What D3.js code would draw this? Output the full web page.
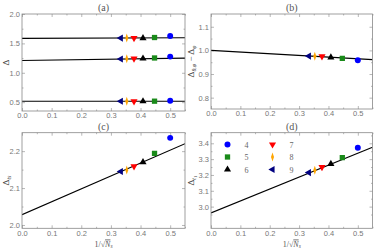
<!DOCTYPE html>
<style>
  body { margin: 0; background: #fff; }
  svg { font-family: "Liberation Serif", serif; }
  .tick text { fill: #777; font-size: 7.5px; }
  .tick line { stroke: #888; stroke-width: 0.6; }
  .frame { fill: none; stroke: #888; stroke-width: 0.8; }
</style>
<svg width="374" height="249"></svg>
<script src="https://d3js.org/d3.v7.min.js"></script>
<script>
// 1/sqrt(Ns) for Ns = 4..9
var sizes = [4, 5, 6, 7, 8, 9];
var xs = sizes.map(function(n) { return 1 / Math.sqrt(n); });

// panel (a): three branches
var aTop = [1.625, 1.600, 1.590, 1.590, 1.590, 1.590];
var aMid = [1.275, 1.252, 1.242, 1.240, 1.237, 1.235];
var aBot = [0.525, 0.517, 0.515, 0.515, 0.515, 0.515];
var aFits = [[1.585, 1.595], [1.210, 1.250], [0.515, 0.515]];
// panel (b)
var bVals = [0.958, 0.966, 0.970, 0.975, 0.975, 0.976];
var bFit = [1.000, 0.961];
// panel (c)
var cVals = [2.236, 2.194, 2.170, 2.159, 2.149, 2.145];
var cFit = [2.028, 2.220];
// panel (d)
var dVals = [3.372, 3.310, 3.270, 3.250, 3.230, 3.215];
var dFit = [2.960, 3.375];

var colors = ["#0000ff", "#1a8a1a", "#000000", "#ff0000", "#ffa500", "#000080"];
var shapes = ["circle", "square", "up", "down", "diamond", "left"];

var svg = d3.select("svg");

function marker(g, shape, color) {
  var p;
  if (shape === "circle") p = g.append("path").attr("d", d3.symbol(d3.symbolCircle, 28)());
  else if (shape === "square") p = g.append("path").attr("d", d3.symbol(d3.symbolSquare, 28)());
  else if (shape === "diamond") p = g.append("path").attr("d", d3.symbol(d3.symbolDiamond, 26)()).attr("transform", "scale(0.55,0.95)");
  else {
    p = g.append("path").attr("d", d3.symbol(d3.symbolTriangle, 22)());
    if (shape === "down") p.attr("transform", "rotate(180)");
    if (shape === "left") p.attr("transform", "rotate(-90)");
  }
  p.attr("fill", color);
}

function panel(opt) {
  var x = d3.scaleLinear().domain([0, 0.55]).range([opt.x0, opt.x1]);
  var y = d3.scaleLinear().domain(opt.ydom).range([opt.y1, opt.y0]);
  var g = svg.append("g");

  var xt = d3.range(0, 0.551, 0.1);
  var xm = d3.range(0.05, 0.551, 0.1);
  g.append("g").attr("transform", "translate(0," + opt.y1 + ")")
    .call(d3.axisBottom(x).tickValues(xt).tickSize(-3).tickPadding(2).tickFormat(d3.format(".1f")))
    .call(function(a) { a.select(".domain").remove(); });
  g.append("g").attr("transform", "translate(0," + opt.y0 + ")")
    .call(d3.axisTop(x).tickValues(xt).tickSize(-3).tickFormat(""))
    .call(function(a) { a.select(".domain").remove(); });
  g.append("g").attr("transform", "translate(0," + opt.y1 + ")")
    .call(d3.axisBottom(x).tickValues(xm).tickSize(-1.5).tickFormat(""))
    .call(function(a) { a.select(".domain").remove(); });
  g.append("g").attr("transform", "translate(0," + opt.y0 + ")")
    .call(d3.axisTop(x).tickValues(xm).tickSize(-1.5).tickFormat(""))
    .call(function(a) { a.select(".domain").remove(); });

  g.append("g").attr("transform", "translate(" + opt.x0 + ",0)")
    .call(d3.axisLeft(y).tickValues(opt.yt).tickSize(-3).tickPadding(2).tickFormat(d3.format(".1f")))
    .call(function(a) { a.select(".domain").remove(); });
  g.append("g").attr("transform", "translate(" + opt.x1 + ",0)")
    .call(d3.axisRight(y).tickValues(opt.yt).tickSize(-3).tickFormat(""))
    .call(function(a) { a.select(".domain").remove(); });
  if (opt.ym) {
    g.append("g").attr("transform", "translate(" + opt.x0 + ",0)")
      .call(d3.axisLeft(y).tickValues(opt.ym).tickSize(-1.5).tickFormat(""))
      .call(function(a) { a.select(".domain").remove(); });
    g.append("g").attr("transform", "translate(" + opt.x1 + ",0)")
      .call(d3.axisRight(y).tickValues(opt.ym).tickSize(-1.5).tickFormat(""))
      .call(function(a) { a.select(".domain").remove(); });
  }

  var clip = "clip" + opt.name;
  svg.append("clipPath").attr("id", clip).append("rect")
    .attr("x", opt.x0).attr("y", opt.y0).attr("width", opt.x1 - opt.x0).attr("height", opt.y1 - opt.y0);
  var plot = g.append("g").attr("clip-path", "url(#" + clip + ")");

  opt.fits.forEach(function(f) {
    plot.append("line")
      .attr("x1", x(0)).attr("y1", y(f[0]))
      .attr("x2", x(0.55)).attr("y2", y(f[1]))
      .attr("stroke", "#000").attr("stroke-width", 1.1);
  });
  opt.series.forEach(function(vals) {
    vals.forEach(function(v, i) {
      var m = plot.append("g").attr("transform", "translate(" + x(xs[i]) + "," + y(v) + ")");
      marker(m, shapes[i], colors[i]);
    });
  });

  g.append("rect").attr("class", "frame")
    .attr("x", opt.x0).attr("y", opt.y0).attr("width", opt.x1 - opt.x0).attr("height", opt.y1 - opt.y0);

  g.append("text").attr("x", (opt.x0 + opt.x1) / 2).attr("y", opt.y0 - 3)
    .attr("text-anchor", "middle").attr("font-size", 10).attr("fill", "#555").text("(" + opt.name + ")");

  var yl = g.append("text")
    .attr("transform", "translate(" + opt.ylx + "," + ((opt.y0 + opt.y1) / 2) + ") rotate(-90)")
    .attr("text-anchor", "middle").attr("font-size", 9).attr("fill", "#444");
  opt.ylabel(yl);

  if (opt.xlabel) {
    var xl = g.append("text").attr("x", (opt.x0 + opt.x1) / 2).attr("y", 246.5)
      .attr("text-anchor", "middle").attr("font-size", 8).attr("fill", "#555");
    xl.append("tspan").text("1/\u221A");
    xl.append("tspan").attr("font-style", "italic").style("text-decoration", "overline").text("N");
    xl.append("tspan").attr("font-size", 5.5).attr("dy", 1).attr("font-style", "italic").text("s");
  }
  return {x: x, y: y, g: g};
}

panel({
  name: "a", x0: 22, x1: 185, y0: 14, y1: 111, ydom: [0.35, 2.0],
  yt: [0.5, 1.0, 1.5, 2.0], ym: [0.75, 1.25, 1.75],
  fits: aFits, series: [aTop, aMid, aBot], ylx: 9,
  ylabel: function(t) { t.text("\u0394"); }
});

panel({
  name: "b", x0: 211, x1: 372.5, y0: 14, y1: 109, ydom: [0.752, 1.154],
  yt: [0.8, 0.9, 1.0, 1.1], ym: [0.85, 0.95, 1.05],
  fits: [bFit], series: [bVals], ylx: 194,
  ylabel: function(t) {
    t.append("tspan").text("\u0394");
    t.append("tspan").attr("font-size", 6).attr("dy", 2).attr("font-style", "italic").text("\u03B8,\u03C6");
    t.append("tspan").attr("dy", -2).text(" \u2212 \u0394");
    t.append("tspan").attr("font-size", 6).attr("dy", 2).attr("font-style", "italic").text("\u03C6");
  }
});

panel({
  name: "c", x0: 22, x1: 185, y0: 132.7, y1: 228.3, ydom: [1.991, 2.25],
  yt: [2.0, 2.1, 2.2], ym: [2.05, 2.15],
  fits: [cFit], series: [cVals], ylx: 9, xlabel: true,
  ylabel: function(t) {
    t.append("tspan").text("\u0394");
    t.append("tspan").attr("font-size", 6).attr("dy", 2).attr("font-style", "italic").text("ts");
  }
});

var pd = panel({
  name: "d", x0: 211, x1: 372.5, y0: 132.7, y1: 228.3, ydom: [2.863, 3.467],
  yt: [3.0, 3.1, 3.2, 3.3, 3.4], ym: [2.95, 3.05, 3.15, 3.25, 3.35, 3.45],
  fits: [dFit], series: [dVals], ylx: 194, xlabel: true,
  ylabel: function(t) {
    t.append("tspan").text("\u0394");
    t.append("tspan").attr("font-size", 6).attr("dy", 2).attr("font-style", "italic").text("t");
    t.append("tspan").attr("font-size", 5).attr("dy", 1).text("1");
  }
});

// legend in panel (d)
var leg = pd.g.append("g");
sizes.forEach(function(n, i) {
  var col = Math.floor(i / 3), row = i % 3;
  var lx = 227.5 + col * 45, ly = 144.5 + row * 12.5;
  var m = leg.append("g").attr("transform", "translate(" + lx + "," + ly + ")");
  marker(m, shapes[i], colors[i]);
  leg.append("text").attr("x", lx + 17).attr("y", ly + 3)
    .attr("font-size", 8).attr("fill", "#666").text(n);
});
</script>
